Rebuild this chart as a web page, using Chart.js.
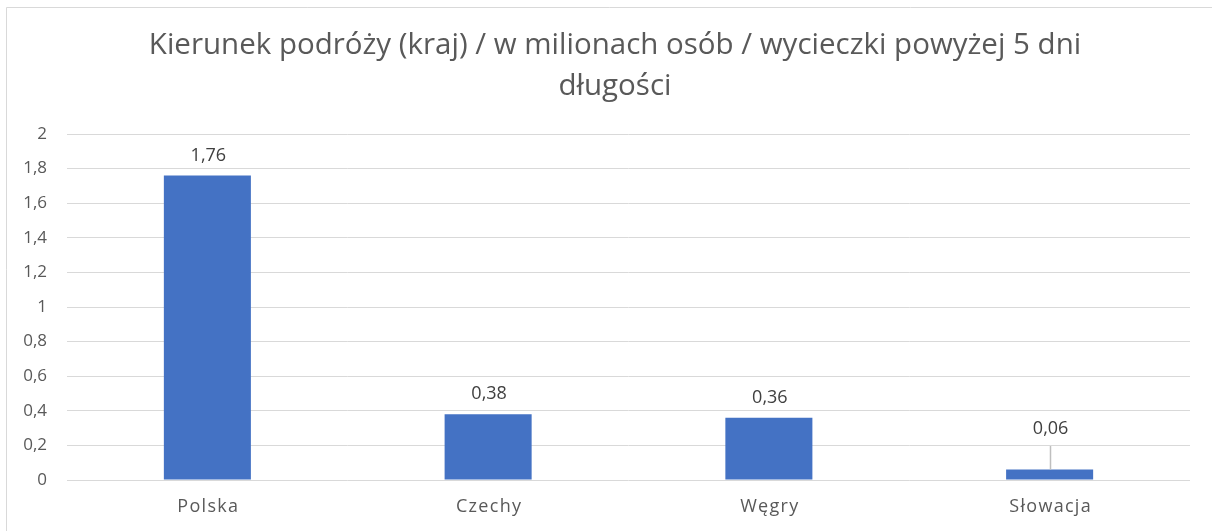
<!DOCTYPE html>
<html>
<head>
<meta charset="utf-8">
<script src="https://cdn.jsdelivr.net/npm/chart.js@4.4.1/dist/chart.umd.min.js"></script>
<style>
html,body{margin:0;padding:0;background:#fff;}
#wrap{position:relative;width:1212px;height:531px;}
</style>
</head>
<body>
<div id="wrap"><canvas id="c" width="1212" height="531"></canvas></div>
<script>
const categories = ["Polska", "Czechy", "Węgry", "Słowacja"];
const values = [1.76, 0.38, 0.36, 0.06];
const titleLines = ["Kierunek podróży (kraj) / w milionach osób / wycieczki powyżej 5 dni", "długości"];
const yMin = 0, yMax = 2, yStep = 0.2;

const fmt = v => String(Number(Number(v).toFixed(2))).replace('.', ',');
const FONT = "'Open Sans', 'DejaVu Sans', sans-serif";

const borderPlugin = {
  id: 'border',
  afterLayout(chart) {
    const t = chart.titleBlock;
    if (t) { t.left = t.left + 40; t.width = t.right - t.left; }
  },
  beforeDraw(chart) {
    const ctx = chart.ctx;
    ctx.save();
    ctx.fillStyle = '#fff';
    ctx.fillRect(0, 0, chart.width, chart.height);
    ctx.strokeStyle = '#d9d9d9';
    ctx.lineWidth = 1;
    ctx.beginPath();
    ctx.moveTo(6.5, chart.height);
    ctx.lineTo(6.5, 7.5);
    ctx.lineTo(chart.width, 7.5);
    ctx.stroke();
    ctx.restore();
  }
};

const labelPlugin = {
  id: 'valueLabels',
  afterDatasetsDraw(chart) {
    const ctx = chart.ctx;
    const meta = chart.getDatasetMeta(0);
    const y0 = chart.scales.y.getPixelForValue(0);
    ctx.save();
    ctx.font = "18px " + FONT;
    ctx.textAlign = 'center';
    ctx.textBaseline = 'middle';
    meta.data.forEach((bar, i) => {
      const v = chart.data.datasets[0].data[i];
      const natural = bar.y - 21;
      const ly = Math.min(natural, y0 - 52);
      if (natural - ly > 5) {
        ctx.strokeStyle = '#bfbfbf';
        ctx.lineWidth = 1.5;
        ctx.beginPath();
        ctx.moveTo(Math.round(bar.x) + 0.5, ly + 18);
        ctx.lineTo(Math.round(bar.x) + 0.5, bar.y);
        ctx.stroke();
      }
      ctx.fillStyle = '#404040';
      ctx.fillText(fmt(v), bar.x + 1, ly + 1);
    });
    ctx.restore();
  }
};

const xLabelPlugin = {
  id: 'xLabels',
  afterDraw(chart) {
    const ctx = chart.ctx;
    const xs = chart.scales.x;
    ctx.save();
    ctx.font = "18px " + FONT;
    ctx.letterSpacing = '1.3px';
    ctx.fillStyle = '#595959';
    ctx.textAlign = 'center';
    ctx.textBaseline = 'middle';
    chart.data.labels.forEach((lab, i) => {
      ctx.fillText(lab, xs.getPixelForTick(i) + 1, chart.chartArea.bottom + 27);
    });
    ctx.restore();
  }
};

new Chart(document.getElementById('c'), {
  type: 'bar',
  data: {
    labels: categories,
    datasets: [{
      data: values,
      backgroundColor: '#4472C4',
      borderWidth: 0,
      barPercentage: 0.31,
      categoryPercentage: 1.0
    }]
  },
  options: {
    responsive: false,
    animation: false,
    devicePixelRatio: 1,
    layout: { padding: { left: 0, right: 22, top: 0, bottom: 0 } },
    plugins: {
      legend: { display: false },
      tooltip: { enabled: false },
      title: {
        display: true,
        text: titleLines,
        color: '#595959',
        font: { family: FONT, size: 29.5, weight: 'normal', lineHeight: 41/29.5 },
        padding: { top: 25, bottom: 27 }
      }
    },
    scales: {
      x: {
        afterFit(s) { s.height = 51; },
        grid: { display: false, drawTicks: false },
        border: { display: false },
        ticks: { display: false }
      },
      y: {
        min: yMin, max: yMax,
        afterFit(s) { s.width = 67; },
        grid: { color: '#d9d9d9', lineWidth: 1, drawTicks: false },
        border: { display: false },
        ticks: {
          stepSize: yStep,
          color: '#595959',
          font: { family: FONT, size: 17 },
          padding: 20,
          callback: v => fmt(v)
        }
      }
    }
  },
  plugins: [borderPlugin, labelPlugin, xLabelPlugin]
});
</script>
</body>
</html>
